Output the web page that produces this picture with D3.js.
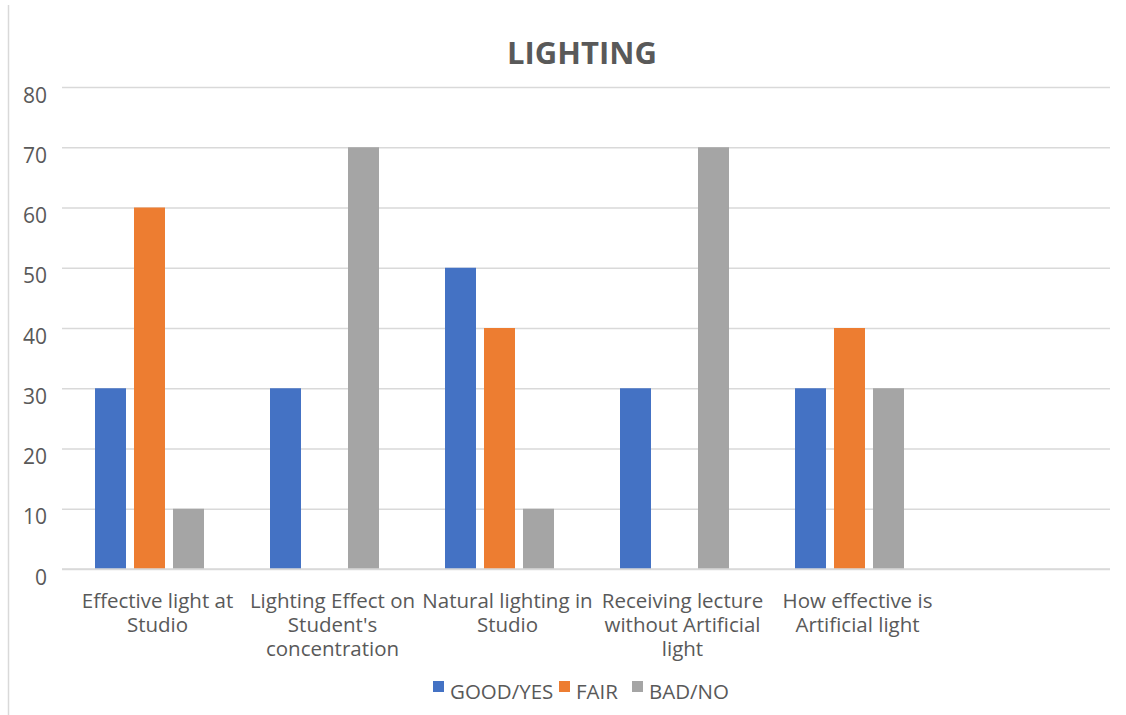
<!DOCTYPE html>
<html>
<head>
<meta charset="utf-8">
<script src="https://cdn.jsdelivr.net/npm/d3@7"></script>
<style>
  html, body { margin: 0; padding: 0; background: #fff; }
  svg { display: block; }
  text { font-family: "Open Sans", "Noto Sans", sans-serif; fill: #595959; }
</style>
</head>
<body>
<svg id="chart" width="1126" height="715"></svg>
<script>
// Survey categories (the last slot is an empty category column)
const categories = [
  ["Effective light at", "Studio"],
  ["Lighting Effect on", "Student's", "concentration"],
  ["Natural lighting in", "Studio"],
  ["Receiving lecture", "without Artificial", "light"],
  ["How effective is", "Artificial light"],
  []
];
const seriesNames = ["GOOD/YES", "FAIR", "BAD/NO"];
const goodYes = [30, 30, 50, 30, 30, null];
const fair    = [60, null, 40, null, 40, null];
const badNo   = [10, 70, 10, 70, 30, null];
const yTicks  = [0, 10, 20, 30, 40, 50, 60, 70, 80];
const colors  = ["#4472C4", "#ED7D31", "#A5A5A5"];

const svg = d3.select("#chart");
const plot = { left: 62, right: 1112, top: 87, bottom: 569 };

// outer frame edge
svg.append("line")
  .attr("x1", 8.5).attr("x2", 8.5).attr("y1", 5).attr("y2", 715)
  .attr("stroke", "#d9d9d9").attr("stroke-width", 1.5);

const x0 = d3.scaleBand()
  .domain(d3.range(categories.length))
  .range([plot.left, plot.right])
  .padding(0);

const x1 = d3.scaleBand()
  .domain(d3.range(seriesNames.length))
  .range([33, x0.bandwidth() - 33])
  .paddingInner(8 / 39);

const y = d3.scaleLinear().domain([0, 80]).range([plot.bottom, plot.top]);

// horizontal gridlines + y labels
const yAxis = d3.axisLeft(y).tickValues(yTicks).tickSize(-(plot.right - plot.left - 2)).tickPadding(15);
const gy = svg.append("g").attr("transform", `translate(${plot.left},0)`).call(yAxis);
gy.select(".domain").remove();
gy.selectAll(".tick line").attr("stroke", "#d9d9d9").attr("stroke-width", 1.5);
gy.selectAll(".tick text")
  .attr("font-size", 21).attr("fill", "#595959")
  .attr("font-family", "'Open Sans', sans-serif")
  .attr("dy", 15);

// bars
const seriesData = [goodYes, fair, badNo];
seriesData.forEach((vals, si) => {
  svg.append("g").selectAll("rect")
    .data(vals.map((v, i) => ({ v, i })).filter(d => d.v != null))
    .join("rect")
    .attr("x", d => x0(d.i) + x1(si))
    .attr("width", x1.bandwidth())
    .attr("y", d => y(d.v))
    .attr("height", d => y(0) - y(d.v))
    .attr("fill", colors[si]);
});

// category labels (wrapped, centred slightly right of the band centre)
const xAxis = d3.axisBottom(x0).tickSize(0).tickFormat("");
const gx = svg.append("g").attr("transform", `translate(0,${plot.bottom})`).call(xAxis);
gx.select(".domain").attr("stroke", "#d9d9d9").attr("stroke-width", 1.5)
  .attr("d", `M${plot.left},0H${plot.right - 2}`);
gx.selectAll(".tick").each(function(d) {
  const t = d3.select(this).append("text")
    .attr("text-anchor", "middle")
    .attr("font-size", 20.5)
    .attr("fill", "#595959");
  categories[d].forEach((line, k) => {
    t.append("tspan").attr("x", 8).attr("y", 39 + k * 24).text(line);
  });
});

// title
svg.append("text")
  .attr("x", 582).attr("y", 64)
  .attr("text-anchor", "middle")
  .attr("font-size", 31).attr("font-weight", "bold")
  .attr("fill", "#595959")
  .text("LIGHTING");

// legend
const legendItems = [
  { name: seriesNames[0], sq: 433, tx: 450 },
  { name: seriesNames[1], sq: 559, tx: 576 },
  { name: seriesNames[2], sq: 632, tx: 649 }
];
const lg = svg.append("g");
legendItems.forEach((it, i) => {
  lg.append("rect").attr("x", it.sq).attr("y", 681).attr("width", 11).attr("height", 11).attr("fill", colors[i]);
  lg.append("text").attr("x", it.tx).attr("y", 699).attr("font-size", 20.5).attr("fill", "#595959").text(it.name);
});
</script>
</body>
</html>
